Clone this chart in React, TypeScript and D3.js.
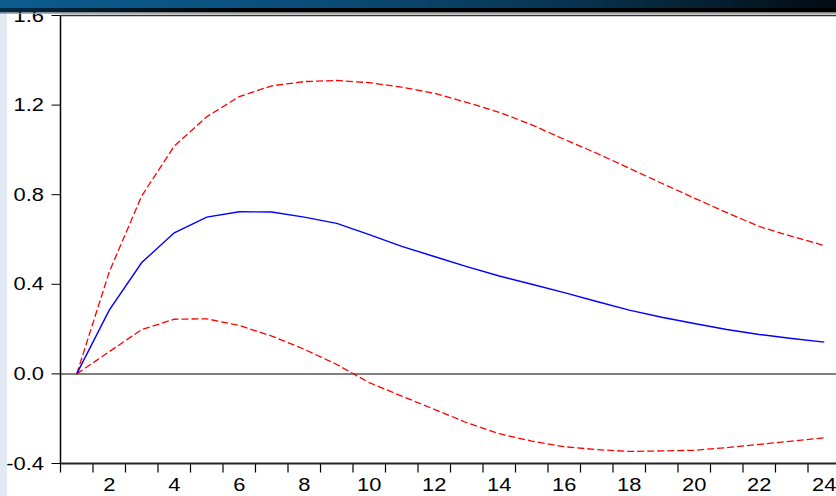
import React from "react";
import * as d3 from "d3";

const periods = d3.range(1, 25);
const response = [0, 0.285, 0.497, 0.63, 0.70, 0.724, 0.723, 0.70, 0.672, 0.622, 0.569, 0.524, 0.479, 0.437, 0.40, 0.363, 0.323, 0.285, 0.253, 0.225, 0.198, 0.176, 0.158, 0.142];
const upper = [0, 0.455, 0.795, 1.017, 1.148, 1.238, 1.286, 1.305, 1.31, 1.30, 1.28, 1.253, 1.212, 1.168, 1.112, 1.047, 0.985, 0.918, 0.851, 0.785, 0.72, 0.658, 0.614, 0.573];
const lower = [0, 0.099, 0.198, 0.244, 0.246, 0.216, 0.169, 0.11, 0.042, -0.039, -0.099, -0.158, -0.218, -0.267, -0.30, -0.325, -0.338, -0.346, -0.344, -0.341, -0.329, -0.315, -0.30, -0.285];
const yTicks = [-0.4, 0.0, 0.4, 0.8, 1.2, 1.6];
const xLabels = [2, 4, 6, 8, 10, 12, 14, 16, 18, 20, 22, 24];

const W = 836;
const H = 496;
const left = 60.5;
const top = 15.5;
const bottom = 463.5;
const SX = 1.25;
const FS = 17.5;

export default function App() {
  const x = d3.scaleLinear().domain([0.5, 24.5]).range([left, left + 24 * 32.5]);
  const y = d3.scaleLinear().domain([-0.4, 1.6]).range([bottom, top]);
  const line = d3
    .line<number>()
    .x((_, i) => x(periods[i]))
    .y((d) => y(d));
  const xTickPos = d3.range(0.5, 25, 1);
  const font = "'Liberation Sans', Arial, sans-serif";

  return (
    <svg
      width={W}
      height={H}
      style={{ position: "absolute", left: 0, top: 0, background: "#fff" }}
    >
      <defs>
        <linearGradient id="band" x1="0" x2="1" y1="0" y2="0">
          <stop offset="0" stopColor="#0b5c8e" />
          <stop offset="0.35" stopColor="#0a4f7c" />
          <stop offset="0.7" stopColor="#08324e" />
          <stop offset="1" stopColor="#020c14" />
        </linearGradient>
        <linearGradient id="band2" x1="0" x2="1" y1="0" y2="0">
          <stop offset="0" stopColor="#062a44" />
          <stop offset="0.3" stopColor="#000" />
          <stop offset="1" stopColor="#000" />
        </linearGradient>
        <clipPath id="plot">
          <rect x={left} y={top} width={W - left} height={bottom - top} />
        </clipPath>
      </defs>

      {/* left strip */}
      <rect x={0} y={0} width={7} height={H} fill="#e3e8f5" />

      {/* y axis ticks & labels */}
      {yTicks.map((t) => (
        <g key={t}>
          <line x1={left - 9} x2={left} y1={y(t)} y2={y(t)} stroke="#000" strokeWidth={1} />
          <text
            transform={`translate(44,${y(t)}) scale(${SX},1)`}
            dy="0.35em"
            textAnchor="end"
            fontFamily={font}
            fontSize={FS}
            fill="#000"
          >
            {t.toFixed(1)}
          </text>
        </g>
      ))}

      {/* x axis ticks & labels */}
      {xTickPos.map((t) => (
        <line key={t} x1={x(t)} x2={x(t)} y1={bottom} y2={bottom + 9} stroke="#000" strokeWidth={1.2} />
      ))}
      {xLabels.map((t) => (
        <text
          key={t}
          transform={`translate(${x(t)},491) scale(${SX},1)`}
          textAnchor="middle"
          fontFamily={font}
          fontSize={FS}
          fill="#000"
        >
          {t}
        </text>
      ))}

      {/* zero line */}
      <line x1={left} x2={W} y1={y(0)} y2={y(0)} stroke="#808080" strokeWidth={2} />

      <g clipPath="url(#plot)">
        <path d={line(upper) || ""} fill="none" stroke="#ff0000" strokeWidth={1.3} strokeDasharray="7,3" />
        <path d={line(lower) || ""} fill="none" stroke="#ff0000" strokeWidth={1.3} strokeDasharray="7,3" />
        <path d={line(response) || ""} fill="none" stroke="#0000ff" strokeWidth={1.4} />
      </g>

      {/* frame */}
      <line x1={left} x2={left} y1={top} y2={bottom} stroke="#000" strokeWidth={1.5} />
      <line x1={left} x2={W} y1={bottom} y2={bottom} stroke="#222" strokeWidth={2} />
      <line x1={left} x2={W} y1={top} y2={top} stroke="#333" strokeWidth={1.5} />

      {/* top band */}
      <rect x={0} y={0} width={W} height={8} fill="url(#band)" />
      <rect x={0} y={8} width={W} height={4.5} fill="url(#band2)" />
      <line x1={0} x2={W} y1={13.5} y2={13.5} stroke="#9a9a9a" strokeWidth={1} opacity={0.8} />
    </svg>
  );
}
